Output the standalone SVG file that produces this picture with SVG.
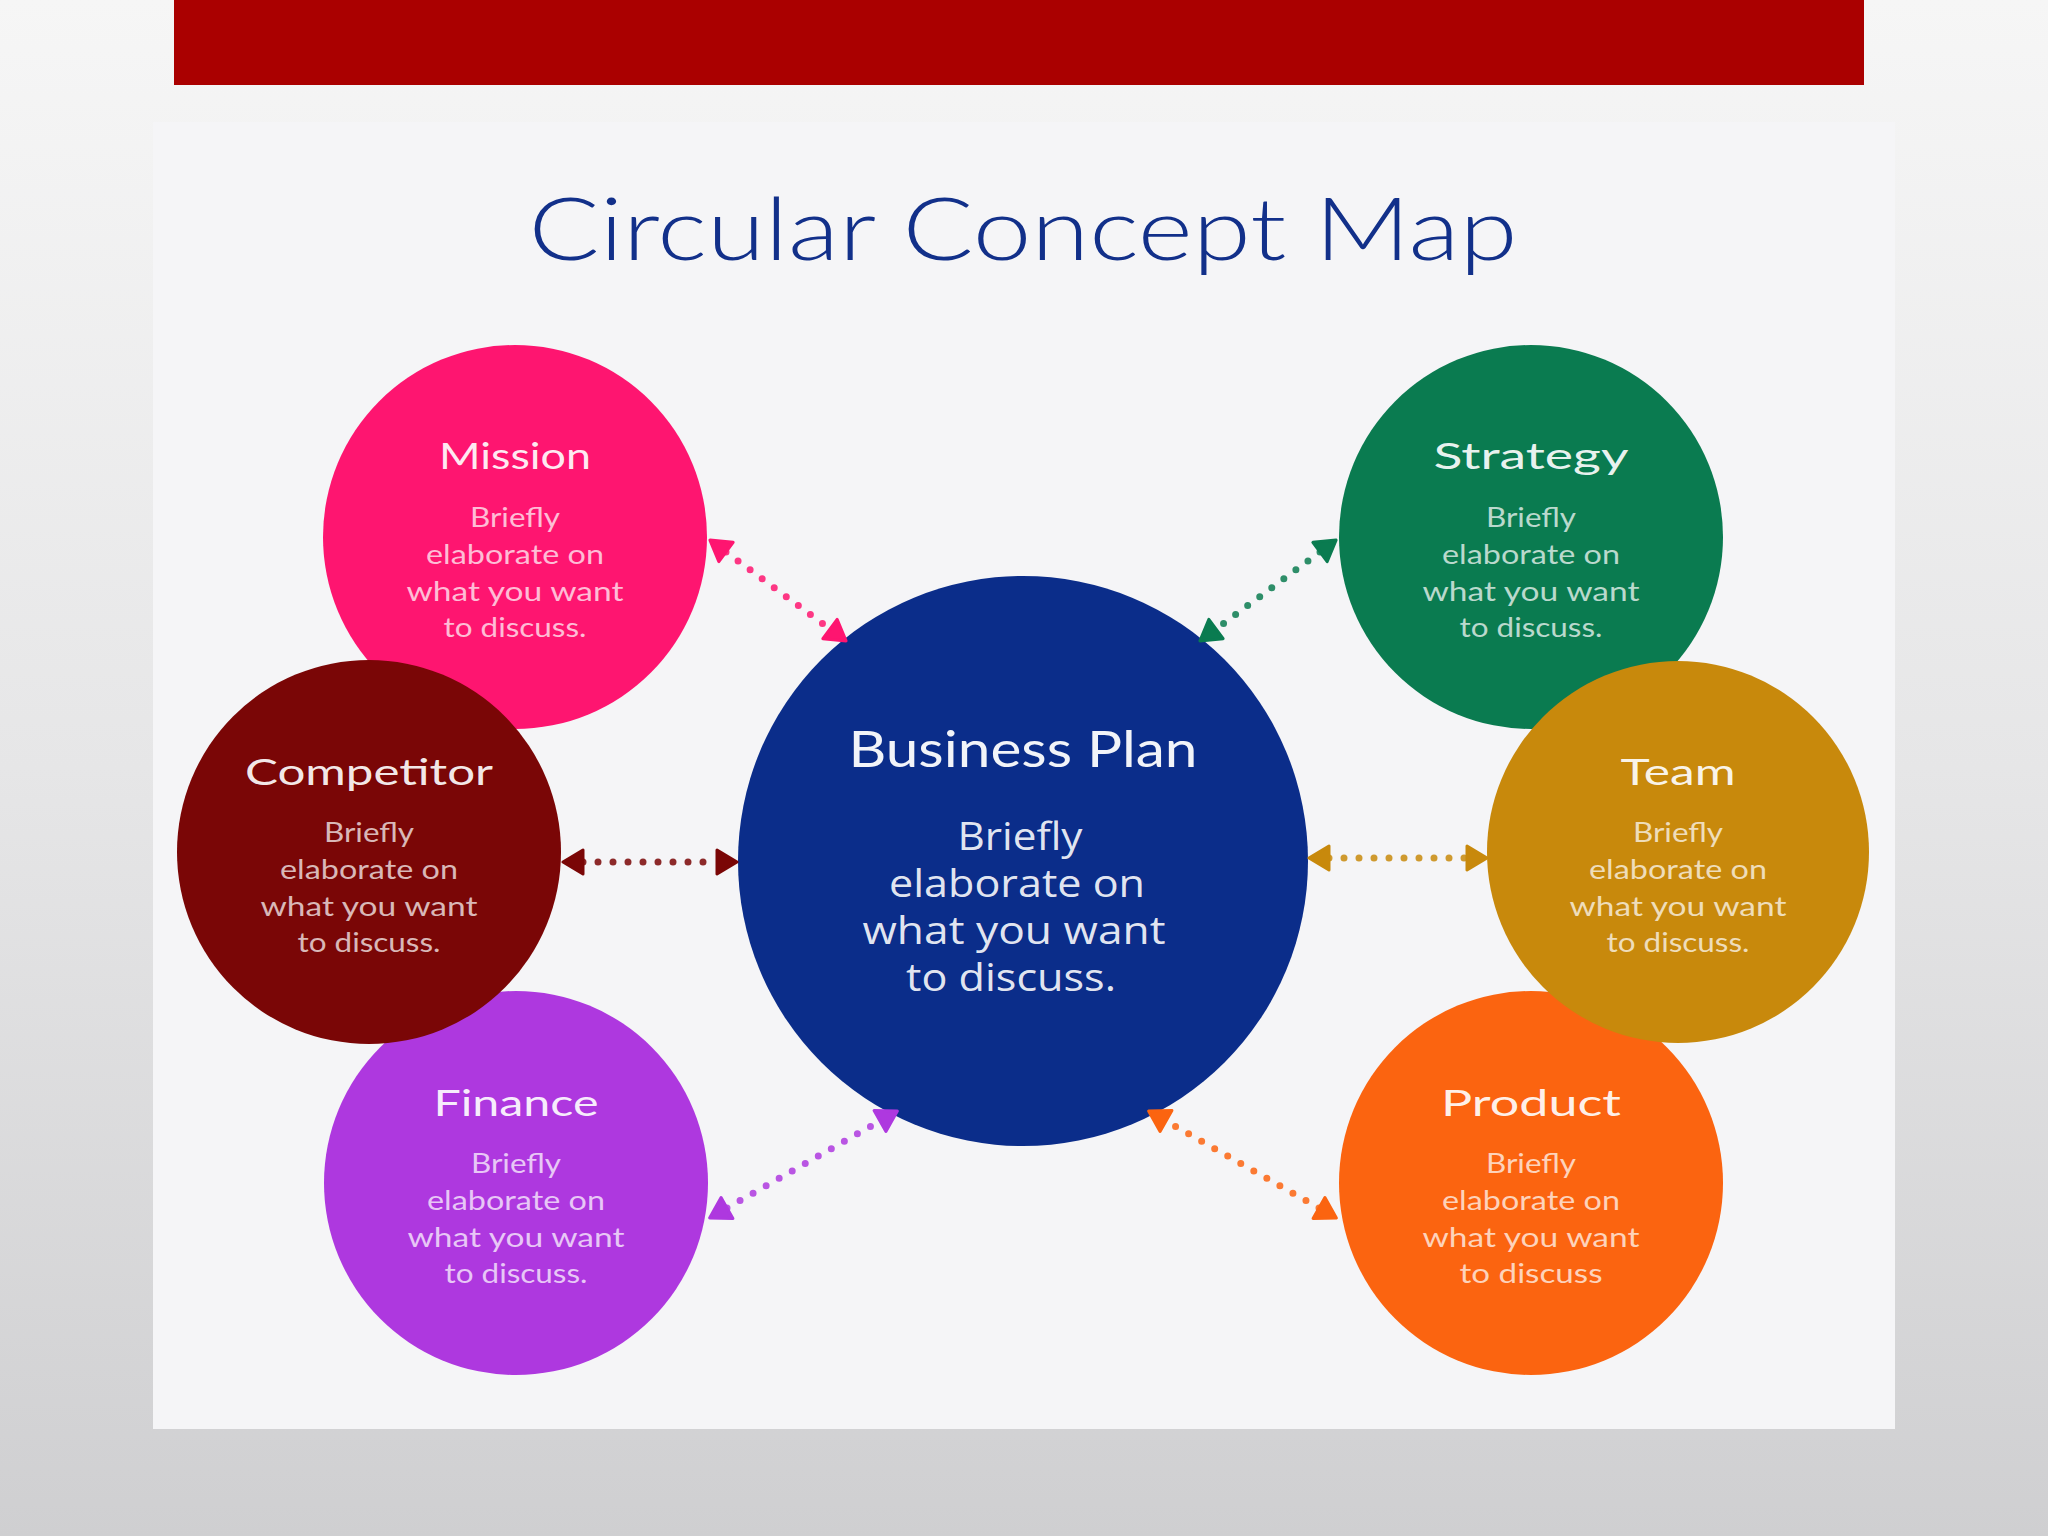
<svg xmlns="http://www.w3.org/2000/svg" width="2048" height="1536" viewBox="0 0 2048 1536">
<defs>
<linearGradient id="bg" x1="0" y1="0" x2="0" y2="1">
<stop offset="0" stop-color="#f6f6f6"/>
<stop offset="0.5" stop-color="#e6e6e7"/>
<stop offset="1" stop-color="#cfcfd1"/>
</linearGradient>
<marker id="m-mission" viewBox="0 0 24 30" refX="2" refY="15" markerWidth="24" markerHeight="30" markerUnits="userSpaceOnUse" orient="auto-start-reverse"><path d="M2,3 L22,15 L2,27 Z" fill="#FE1570" stroke="#FE1570" stroke-width="3" stroke-linejoin="round"/></marker>
<marker id="m-strategy" viewBox="0 0 24 30" refX="2" refY="15" markerWidth="24" markerHeight="30" markerUnits="userSpaceOnUse" orient="auto-start-reverse"><path d="M2,3 L22,15 L2,27 Z" fill="#0A7B50" stroke="#0A7B50" stroke-width="3" stroke-linejoin="round"/></marker>
<marker id="m-competitor" viewBox="0 0 24 30" refX="2" refY="15" markerWidth="24" markerHeight="30" markerUnits="userSpaceOnUse" orient="auto-start-reverse"><path d="M2,3 L22,15 L2,27 Z" fill="#7A0606" stroke="#7A0606" stroke-width="3" stroke-linejoin="round"/></marker>
<marker id="m-team" viewBox="0 0 24 30" refX="2" refY="15" markerWidth="24" markerHeight="30" markerUnits="userSpaceOnUse" orient="auto-start-reverse"><path d="M2,3 L22,15 L2,27 Z" fill="#C8890C" stroke="#C8890C" stroke-width="3" stroke-linejoin="round"/></marker>
<marker id="m-finance" viewBox="0 0 24 30" refX="2" refY="15" markerWidth="24" markerHeight="30" markerUnits="userSpaceOnUse" orient="auto-start-reverse"><path d="M2,3 L22,15 L2,27 Z" fill="#AE38DF" stroke="#AE38DF" stroke-width="3" stroke-linejoin="round"/></marker>
<marker id="m-product" viewBox="0 0 24 30" refX="2" refY="15" markerWidth="24" markerHeight="30" markerUnits="userSpaceOnUse" orient="auto-start-reverse"><path d="M2,3 L22,15 L2,27 Z" fill="#FB6410" stroke="#FB6410" stroke-width="3" stroke-linejoin="round"/></marker>
</defs>
<style>
.title{font-family:Lato,"Noto Sans",sans-serif;font-weight:300;fill:#12308A;font-size:86px;text-anchor:middle}
.nt{font-family:Lato,"Noto Sans",sans-serif;fill:#ffffff;fill-opacity:0.92;font-size:36px;text-anchor:middle}
.nb{font-family:Lato,"Noto Sans",sans-serif;fill:#ffffff;fill-opacity:0.72;font-size:27px;text-anchor:middle}
.ct{font-family:Lato,"Noto Sans",sans-serif;fill:#ffffff;fill-opacity:0.95;font-size:50px;text-anchor:middle}
.cb{font-family:"Open Sans","Noto Sans",sans-serif;fill:#ffffff;fill-opacity:0.9;font-size:38px;text-anchor:middle}
.dots{fill:none;stroke-width:7;stroke-linecap:round;stroke-dasharray:0 15;stroke-opacity:0.85}
.hd{fill:none;stroke:none}
</style>
<rect x="0" y="0" width="2048" height="1536" fill="url(#bg)"/>
<rect x="174" y="0" width="1690" height="85" fill="#AA0000"/>
<rect x="153" y="122" width="1742" height="1307" fill="#F5F5F7"/>
<text class="title" x="1023" y="260" textLength="989" lengthAdjust="spacingAndGlyphs">Circular Concept Map</text>

<g id="node-mission">
<circle cx="515" cy="537" r="192" fill="#FE1570"/>
<text class="nt" x="515" y="469" textLength="152" lengthAdjust="spacingAndGlyphs">Mission</text>
<text class="nb" x="515" y="527" textLength="90" lengthAdjust="spacingAndGlyphs">Briefly</text>
<text class="nb" x="515" y="564" textLength="178" lengthAdjust="spacingAndGlyphs">elaborate on</text>
<text class="nb" x="515" y="601" textLength="217" lengthAdjust="spacingAndGlyphs">what you want</text>
<text class="nb" x="515" y="637" textLength="143" lengthAdjust="spacingAndGlyphs">to discuss.</text>
</g>
<g id="node-finance">
<circle cx="516" cy="1183" r="192" fill="#AE38DF"/>
<text class="nt" x="516" y="1116" textLength="165" lengthAdjust="spacingAndGlyphs">Finance</text>
<text class="nb" x="516" y="1173" textLength="90" lengthAdjust="spacingAndGlyphs">Briefly</text>
<text class="nb" x="516" y="1210" textLength="178" lengthAdjust="spacingAndGlyphs">elaborate on</text>
<text class="nb" x="516" y="1247" textLength="217" lengthAdjust="spacingAndGlyphs">what you want</text>
<text class="nb" x="516" y="1283" textLength="143" lengthAdjust="spacingAndGlyphs">to discuss.</text>
</g>
<g id="node-competitor">
<circle cx="369" cy="852" r="192" fill="#7A0606"/>
<text class="nt" x="369" y="785" textLength="248" lengthAdjust="spacingAndGlyphs">Competitor</text>
<text class="nb" x="369" y="842" textLength="90" lengthAdjust="spacingAndGlyphs">Briefly</text>
<text class="nb" x="369" y="879" textLength="178" lengthAdjust="spacingAndGlyphs">elaborate on</text>
<text class="nb" x="369" y="916" textLength="217" lengthAdjust="spacingAndGlyphs">what you want</text>
<text class="nb" x="369" y="952" textLength="143" lengthAdjust="spacingAndGlyphs">to discuss.</text>
</g>
<g id="node-strategy">
<circle cx="1531" cy="537" r="192" fill="#0A7B50"/>
<text class="nt" x="1531" y="469" textLength="195" lengthAdjust="spacingAndGlyphs">Strategy</text>
<text class="nb" x="1531" y="527" textLength="90" lengthAdjust="spacingAndGlyphs">Briefly</text>
<text class="nb" x="1531" y="564" textLength="178" lengthAdjust="spacingAndGlyphs">elaborate on</text>
<text class="nb" x="1531" y="601" textLength="217" lengthAdjust="spacingAndGlyphs">what you want</text>
<text class="nb" x="1531" y="637" textLength="143" lengthAdjust="spacingAndGlyphs">to discuss.</text>
</g>
<g id="node-product">
<circle cx="1531" cy="1183" r="192" fill="#FB6410"/>
<text class="nt" x="1531" y="1116" textLength="180" lengthAdjust="spacingAndGlyphs">Product</text>
<text class="nb" x="1531" y="1173" textLength="90" lengthAdjust="spacingAndGlyphs">Briefly</text>
<text class="nb" x="1531" y="1210" textLength="178" lengthAdjust="spacingAndGlyphs">elaborate on</text>
<text class="nb" x="1531" y="1247" textLength="217" lengthAdjust="spacingAndGlyphs">what you want</text>
<text class="nb" x="1531" y="1283" textLength="143" lengthAdjust="spacingAndGlyphs">to discuss</text>
</g>
<g id="node-team">
<circle cx="1678" cy="852" r="191" fill="#C8890C"/>
<text class="nt" x="1678" y="785" textLength="115" lengthAdjust="spacingAndGlyphs">Team</text>
<text class="nb" x="1678" y="842" textLength="90" lengthAdjust="spacingAndGlyphs">Briefly</text>
<text class="nb" x="1678" y="879" textLength="178" lengthAdjust="spacingAndGlyphs">elaborate on</text>
<text class="nb" x="1678" y="916" textLength="217" lengthAdjust="spacingAndGlyphs">what you want</text>
<text class="nb" x="1678" y="952" textLength="143" lengthAdjust="spacingAndGlyphs">to discuss.</text>
</g>
<g id="node-business-plan">
<circle cx="1023" cy="861" r="285" fill="#0B2D8A"/>
<text class="ct" x="1023" y="767" textLength="349" lengthAdjust="spacingAndGlyphs">Business Plan</text>
<text class="cb" x="1020" y="850" textLength="125" lengthAdjust="spacingAndGlyphs">Briefly</text>
<text class="cb" x="1017" y="897" textLength="256" lengthAdjust="spacingAndGlyphs">elaborate on</text>
<text class="cb" x="1014" y="944" textLength="303" lengthAdjust="spacingAndGlyphs">what you want</text>
<text class="cb" x="1011" y="991" textLength="210" lengthAdjust="spacingAndGlyphs">to discuss.</text>
</g>

<g id="connectors">
<line class="dots" x1="726" y1="552" x2="830" y2="629" stroke="#FE1570"/>
<line class="hd" x1="726" y1="552" x2="830" y2="629" marker-start="url(#m-mission)" marker-end="url(#m-mission)"/>
<line class="dots" x1="1320" y1="552" x2="1216" y2="629" stroke="#0A7B50"/>
<line class="hd" x1="1320" y1="552" x2="1216" y2="629" marker-start="url(#m-strategy)" marker-end="url(#m-strategy)"/>
<line class="dots" x1="583" y1="862" x2="717" y2="862" stroke="#7A0606"/>
<line class="hd" x1="583" y1="862" x2="717" y2="862" marker-start="url(#m-competitor)" marker-end="url(#m-competitor)"/>
<line class="dots" x1="1329" y1="858" x2="1467" y2="858" stroke="#C8890C"/>
<line class="hd" x1="1329" y1="858" x2="1467" y2="858" marker-start="url(#m-team)" marker-end="url(#m-team)"/>
<line class="dots" x1="727" y1="1208" x2="880" y2="1121" stroke="#AE38DF"/>
<line class="hd" x1="727" y1="1208" x2="880" y2="1121" marker-start="url(#m-finance)" marker-end="url(#m-finance)"/>
<line class="dots" x1="1319" y1="1208" x2="1166" y2="1121" stroke="#FB6410"/>
<line class="hd" x1="1319" y1="1208" x2="1166" y2="1121" marker-start="url(#m-product)" marker-end="url(#m-product)"/>
</g>
</svg>
